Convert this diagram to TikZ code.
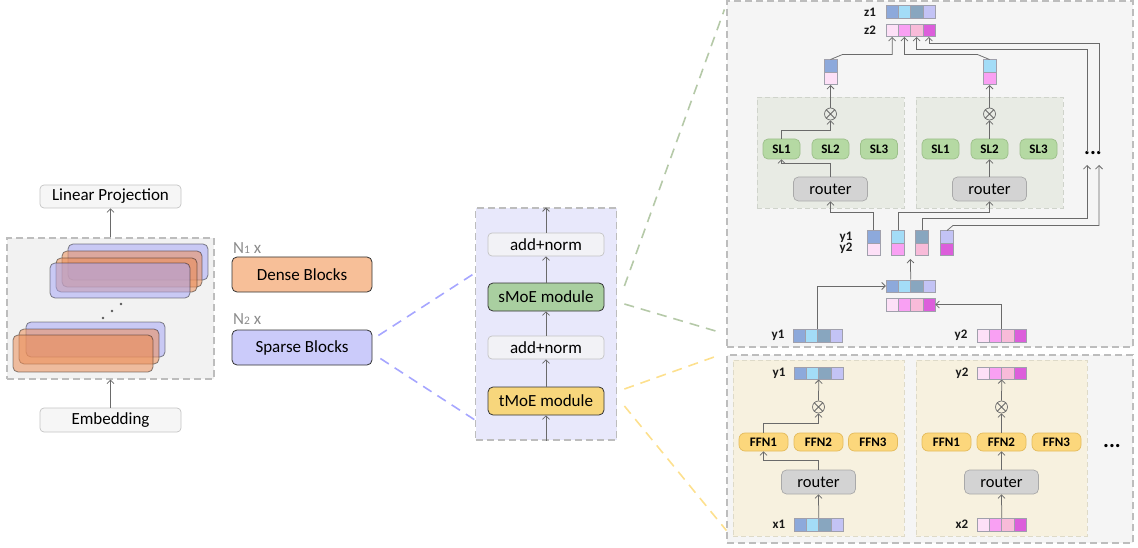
\documentclass[tikz,border=0pt]{standalone}
\usepackage{fontspec}
\setmainfont{Carlito}
\usetikzlibrary{arrows.meta,calc}
\definecolor{cA}{HTML}{8DA9DB}
\definecolor{cB}{HTML}{A3DCF7}
\definecolor{cC}{HTML}{88A6BF}
\definecolor{cD}{HTML}{C3C3F5}
\definecolor{pA}{HTML}{FDE0F7}
\definecolor{pB}{HTML}{F9A0F3}
\definecolor{pC}{HTML}{F8BBD9}
\definecolor{pD}{HTML}{DC5EDB}
\definecolor{celld}{HTML}{A0A0AC}
\definecolor{lnc}{HTML}{6A6A6A}
\definecolor{gbd}{HTML}{C4C4C4}
\definecolor{gbf}{HTML}{F6F6F6}
\definecolor{anf}{HTML}{F2F2F6}
\definecolor{pnd}{HTML}{BDBDBD}
\definecolor{pnf}{HTML}{F5F5F5}
\definecolor{stf}{HTML}{F2F2F2}
\definecolor{midf}{HTML}{E8E8FB}
\definecolor{densef}{HTML}{F7BF98}
\definecolor{sparsef}{HTML}{CBCBFA}
\definecolor{smoef}{HTML}{A9CFA0}
\definecolor{tmoef}{HTML}{F7D67C}
\definecolor{ngray}{HTML}{8C8C8C}
\definecolor{blkO}{HTML}{EC8E58}
\definecolor{blkP}{HTML}{A8A8F7}
\definecolor{exf}{HTML}{E8EBE4}
\definecolor{exd}{HTML}{CFD3CB}
\definecolor{yef}{HTML}{F7F1DF}
\definecolor{yed}{HTML}{DEDAC8}
\definecolor{slf}{HTML}{B5D9A3}
\definecolor{sld}{HTML}{9CBF8A}
\definecolor{ffnf}{HTML}{FCD77C}
\definecolor{ffnd}{HTML}{E4BB5C}
\definecolor{rtf}{HTML}{D3D3D3}
\definecolor{rtd}{HTML}{A9A9A9}
\definecolor{dbl}{HTML}{A6A6FF}
\definecolor{dgr}{HTML}{B5C9A8}
\definecolor{dye}{HTML}{FDE08E}
\newcommand\vecrow[4]{%
  \foreach \c [count=\i] in {#4} {\node[cell, fill=\c] (#1-\i) at ({#2+(\i-0.5)*12.25}, #3) {};}}
\newcommand\otcross[1]{\draw[ln] (#1.north east)--(#1.south west) (#1.north west)--(#1.south east);}
\begin{document}
\begin{tikzpicture}[x=1pt,y=-1pt, font=\fontsize{17}{19}\selectfont,
 ln/.style={draw=lnc, line width=0.75pt},
 arr/.style={ln, -{Straight Barb[length=3.5pt,width=7pt]}},
 gbox/.style={rounded corners=4pt, draw=gbd, fill=gbf, line width=0.7pt, inner sep=0pt},
 kbox/.style={rounded corners=5pt, draw=black!80, line width=0.8pt, inner sep=0pt},
 panel/.style={draw=pnd, dash pattern=on 7pt off 4pt, line width=1.1pt, inner sep=0pt},
 cell/.style={draw=celld, line width=0.5pt, minimum width=12.25pt, minimum height=12.5pt, inner sep=0pt},
 blab/.style={font=\bfseries\fontsize{13}{13}\selectfont, text=black!90},
 sl/.style={rounded corners=5pt, draw=sld, fill=slf, line width=0.7pt, minimum width=37pt, minimum height=20pt, inner sep=0pt, font=\bfseries\fontsize{13}{13}\selectfont},
 ffn/.style={rounded corners=6pt, draw=ffnd, fill=ffnf, line width=0.7pt, minimum width=49pt, minimum height=18pt, inner sep=0pt, font=\bfseries\fontsize{13}{13}\selectfont},
 rt/.style={rounded corners=5pt, draw=rtd, fill=rtf, line width=0.7pt, minimum width=74pt, minimum height=24pt, inner sep=0pt, font=\fontsize{16.5}{18}\selectfont},
 otimes/.style={circle, draw=lnc, minimum size=12pt, inner sep=0pt, line width=0.7pt},
 oblk/.style={rounded corners=5pt, fill=blkO, fill opacity=0.55, draw=black, draw opacity=0.45, line width=0.8pt},
 pblk/.style={rounded corners=5pt, fill=blkP, fill opacity=0.55, draw=black, draw opacity=0.45, line width=0.8pt},
 cdash/.style={dash pattern=on 10pt off 7pt, line width=1.6pt},
 dotsty/.style={font=\bfseries\fontsize{22}{22}\selectfont, inner sep=0pt},
]
\useasboundingbox (0,0) rectangle (1138,548);

% ---------------- left column ----------------
\node[gbox, minimum width=141pt, minimum height=23pt] (lp) at (110.5,196.5) {Linear Projection};
\node[gbox, minimum width=141pt, minimum height=24pt] (emb) at (110.5,420) {Embedding};
\node[panel, fill=stf, minimum width=207pt, minimum height=141pt] (stk) at (110.5,308.5) {};
\draw[arr] (emb.north) -- (stk.south);
\draw[arr] (stk.north) -- (lp.south);
% stacked blocks
\draw[pblk] (68,244) rectangle (208,280);
\draw[oblk] (62,251) rectangle (202,287);
\draw[oblk] (56,258) rectangle (197,292);
\draw[pblk] (50,263) rectangle (190,298);
\draw[pblk] (26,322) rectangle (165,357);
\draw[oblk] (19,329) rectangle (159,364);
\draw[oblk] (13,335) rectangle (153,372);
\fill[black!65] (121,304) circle (1.4pt) (112,311) circle (1.4pt) (103,318) circle (1.4pt);

\node[anchor=west, text=ngray, inner sep=0pt] (n1) at (233,248) {N{\fontsize{11.5}{11}\selectfont 1} x};
\node[kbox, fill=densef, minimum width=140pt, minimum height=35pt] (dense) at (302,274.5) {Dense Blocks};
\node[anchor=west, text=ngray, inner sep=0pt] (n2) at (233,319) {N{\fontsize{11.5}{11}\selectfont 2} x};
\node[kbox, fill=sparsef, minimum width=140pt, minimum height=35pt] (sparse) at (302,347.5) {Sparse Blocks};

% ---------------- middle column ----------------
\node[panel, fill=midf, minimum width=141pt, minimum height=232pt] (mid) at (546,324) {};
\node[gbox, fill=anf, minimum width=116pt, minimum height=23pt] (an2) at (546,244.5) {add+norm};
\node[kbox, fill=smoef, minimum width=116pt, minimum height=28pt] (smoe) at (546,297) {sMoE module};
\node[gbox, fill=anf, minimum width=116pt, minimum height=23pt] (an1) at (546,347.5) {add+norm};
\node[kbox, fill=tmoef, minimum width=116pt, minimum height=28pt] (tmoe) at (546,401) {tMoE module};
\draw[arr] (mid.south) -- (tmoe.south);
\draw[arr] (tmoe.north) -- (an1.south);
\draw[arr] (an1.north) -- (smoe.south);
\draw[arr] (smoe.north) -- (an2.south);
\draw[arr] (an2.north) -- (mid.north);

% ---------------- right panels ----------------
\node[panel, fill=pnf, minimum width=406pt, minimum height=346pt] (tp) at (930,174) {};
\node[panel, fill=pnf, minimum width=406pt, minimum height=188pt] (bp) at (930,449) {};

% dashed zoom connectors
\draw[cdash, draw=dbl] ($(sparse.east)+(6,-12)$) -- ($(mid.west)+(0,-51)$);
\draw[cdash, draw=dbl] ($(sparse.east)+(8,11)$) -- ($(mid.west)+(0,96)$);
\draw[cdash, draw=dgr] ($(smoe.east)+(20,-11)$) -- ($(tp.north west)+(-2,9)$);
\draw[cdash, draw=dgr] ($(smoe.east)+(20,7)$) -- ($(tp.south west)+(-9,-16)$);
\draw[cdash, draw=dye] ($(tmoe.east)+(20,-12)$) -- ($(bp.north west)+(-8,1)$);
\draw[cdash, draw=dye] ($(tmoe.east)+(20,5)$) -- ($(bp.south west)+(0,-13)$);

% ===== top panel (sMoE) =====
\node[draw=exd, fill=exf, dash pattern=on 5pt off 3pt, line width=0.8pt, minimum width=147pt, minimum height=111pt] (e1) at (830.5,152.5) {};
\node[draw=exd, fill=exf, dash pattern=on 5pt off 3pt, line width=0.8pt, minimum width=147pt, minimum height=111pt] (e2) at (989.5,152.5) {};

\node[blab] (lz1) at (870,12) {z1};
\node[blab] (lz2) at (870,30.5) {z2};
\vecrow{z1}{886}{12}{cA,cB,cC,cD}
\vecrow{z2}{886}{30.5}{pA,pB,pC,pD}

\node[cell, minimum width=13pt, fill=cA] (oa1t) at (830.5,66) {};
\node[cell, minimum width=13pt, fill=pA] (oa1b) at (830.5,78.5) {};
\node[cell, minimum width=13pt, fill=cB] (oa2t) at (989.5,66) {};
\node[cell, minimum width=13pt, fill=pB] (oa2b) at (989.5,78.5) {};

\node[otimes] (ox1) at (830.5,114) {};
\node[otimes] (ox2) at (989.5,114) {};
\otcross{ox1}
\otcross{ox2}

\node[sl] (sl11) at (781.5,149) {SL1};
\node[sl] (sl12) at (830.5,149) {SL2};
\node[sl] (sl13) at (879,149) {SL3};
\node[sl] (sl21) at (940.5,149) {SL1};
\node[sl] (sl22) at (989.5,149) {SL2};
\node[sl] (sl23) at (1038.5,149) {SL3};

\node[rt] (r1) at (830.5,189) {router};
\node[rt] (r2) at (989.5,189) {router};

\node[blab] (lq1) at (846,237) {y1};
\node[blab] (lq2) at (846,248.5) {y2};
\node[cell, minimum width=13pt, fill=cA] (q1t) at (873.5,237) {};
\node[cell, minimum width=13pt, fill=pA] (q1b) at (873.5,249.5) {};
\node[cell, minimum width=13pt, fill=cB] (q2t) at (898,237) {};
\node[cell, minimum width=13pt, fill=pB] (q2b) at (898,249.5) {};
\node[cell, minimum width=13pt, fill=cC] (q3t) at (922,237) {};
\node[cell, minimum width=13pt, fill=pC] (q3b) at (922,249.5) {};
\node[cell, minimum width=13pt, fill=cD] (q4t) at (947,237) {};
\node[cell, minimum width=13pt, fill=pD] (q4b) at (947,249.5) {};

\vecrow{st1}{886}{286}{cA,cB,cC,cD}
\vecrow{st2}{886}{304.5}{pA,pB,pC,pD}
\node[blab] (lyb1) at (778,335.5) {y1};
\node[blab] (lyb2) at (961,335.5) {y2};
\vecrow{yb1}{793}{335.5}{cA,cB,cC,cD}
\vecrow{yb2}{977}{335.5}{pA,pB,pC,pD}

\coordinate (stup) at (910.4,259);
\coordinate (d1) at (1087,165);
\coordinate (d2) at (1099,165);
\coordinate (u1) at (1087,152);
\coordinate (u2) at (1099,152);
\node[dotsty] (dots1) at (1093,153) {...};

\draw[arr] (yb1-2.north east) |- (st1-1.west);
\draw[arr] (yb2-2.north east) |- (st2-4.east);
\draw[arr] (st1-2.north east) -- (stup);
\draw[arr] (q1t.north) -- ++(0,-18) -| (r1.south);
\draw[arr] (q2t.north) -- ++(0,-18) -| (r2.south);
\draw[arr] (q3t.north) -- ++(0,-12) -| (d1);
\draw[arr] (q4t.north) -- ++(6,-5) -| (d2);
\draw[arr] (u1) |- ($(z2-3.south)+(0,12)$) -- (z2-3.south);
\draw[arr] (u2) |- ($(z2-4.south)+(0,6)$) -- (z2-4.south);
\draw[arr] (oa1t.north) -- ++(12,-5) -| (z2-1.south);
\draw[arr] (oa2t.north) -- ++(-12,-5) -| (z2-2.south);
\draw[arr] (ox1.north) -- (oa1b.south);
\draw[arr] (ox2.north) -- (oa2b.south);
\draw[arr] (sl11.north) -- ++(0,-8) -| (ox1.south);
\draw[arr] (r1.north) -- ++(0,-13) -| (sl11.south);
\draw[arr] (r2.north) -- (sl22.south);
\draw[arr] (sl22.north) -- (ox2.south);

% ===== bottom panel (tMoE) =====
\node[draw=yed, fill=yef, dash pattern=on 5pt off 3pt, line width=0.8pt, minimum width=171pt, minimum height=176pt] (ye1) at (818.5,448) {};
\node[draw=yed, fill=yef, dash pattern=on 5pt off 3pt, line width=0.8pt, minimum width=171pt, minimum height=176pt] (ye2) at (1001.5,448) {};
\node[dotsty] (dots2) at (1112,446) {...};

\node[blab] (lya) at (779,373) {y1};
\node[blab] (lyb) at (962,373) {y2};
\vecrow{ya}{794}{373}{cA,cB,cC,cD}
\vecrow{yo}{977}{373}{pA,pB,pC,pD}
\node[otimes] (ox3) at (818.5,407) {};
\node[otimes] (ox4) at (1001.5,407) {};
\otcross{ox3}
\otcross{ox4}
\node[ffn] (f11) at (763.5,442) {FFN1};
\node[ffn] (f12) at (818.5,442) {FFN2};
\node[ffn] (f13) at (873,442) {FFN3};
\node[ffn] (f21) at (946.5,442) {FFN1};
\node[ffn] (f22) at (1001.5,442) {FFN2};
\node[ffn] (f23) at (1056.5,442) {FFN3};
\node[rt] (r3) at (818.5,482) {router};
\node[rt] (r4) at (1001.5,482) {router};
\node[blab] (lxa) at (779,524.5) {x1};
\node[blab] (lxb) at (962,524.5) {x2};
\vecrow{xa}{794}{524.5}{cA,cB,cC,cD}
\vecrow{xb}{977}{524.5}{pA,pB,pC,pD}

\draw[arr] (xa-2.north east) -- (r3.south);
\draw[arr] (r3.north) -- ++(0,-9) -| (f11.south);
\draw[arr] (f11.north) -- ++(0,-9) -| (ox3.south);
\draw[arr] (ox3.north) -- (ya-2.south east);
\draw[arr] (xb-2.north east) -- (r4.south);
\draw[arr] (r4.north) -- (f22.south);
\draw[arr] (f22.north) -- (ox4.south);
\draw[arr] (ox4.north) -- (yo-2.south east);
\end{tikzpicture}
\end{document}
